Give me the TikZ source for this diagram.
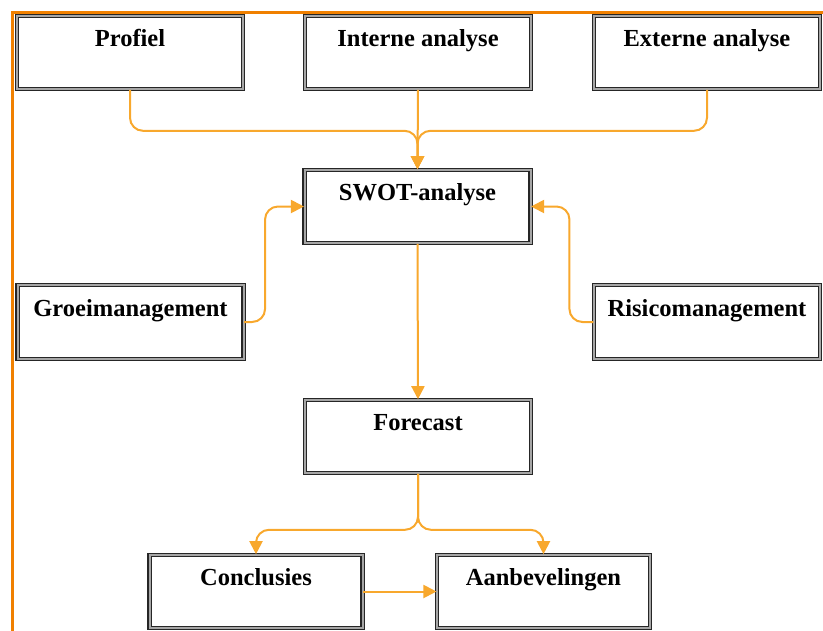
\documentclass[tikz,border=0pt]{standalone}
\usepackage{fontspec}
\setmainfont{Liberation Serif}
\usetikzlibrary{arrows.meta}
\definecolor{framecol}{RGB}{240,128,0}
\definecolor{linecol}{RGB}{248,168,45}
\begin{document}
\begin{tikzpicture}[x=1pt,y=1pt,
box/.style={draw=black!85, line width=1.1pt, double=gray!70, double distance=2pt, fill=white, minimum width=226pt, inner ysep=4pt, text height=27pt, text depth=38.5pt, font=\bfseries\fontsize{24.5}{28}\selectfont},
smallbox/.style={box, minimum width=213pt},
conn/.style={draw=linecol, line width=2pt, rounded corners=13pt, -{Triangle[length=13pt,width=13pt]}},
frame/.style={draw=framecol, line width=3pt}]
\useasboundingbox (0,0) rectangle (823,-630);
\draw[frame] (12,-640) -- (12,-12) -- (830,-12);
\node[box] (prof) at (130,-52.5) {Profiel};
\node[box] (int) at (418,-52.5) {Interne analyse};
\node[box] (ext) at (707,-52.5) {Externe analyse};
\node[box] (swot) at (417.5,-206.5) {SWOT-analyse};
\node[box] (groei) at (130.5,-322) {Groeimanagement};
\node[box] (risk) at (707,-322) {Risicomanagement};
\node[box] (fc) at (418,-436.5) {Forecast};
\node[smallbox] (concl) at (256,-591.5) {Conclusies};
\node[smallbox] (aanb) at (543.5,-591.5) {Aanbevelingen};
\draw[conn] (prof.south) -- ++(0,-41) -| (swot.north);
\draw[conn] (ext.south) -- ++(0,-41) -| (swot.north);
\draw[conn] (int.south) -- (swot.north);
\draw[conn] (groei.east) -- ++(21,0) |- (swot.west);
\draw[conn] (risk.west) -- ++(-24,0) |- (swot.east);
\draw[conn] (swot.south) -- (fc.north);
\draw[conn] (fc.south) -- ++(0,-56) -| (concl.north);
\draw[conn] (fc.south) -- ++(0,-56) -| (aanb.north);
\draw[conn] (concl.east) -- (aanb.west);
\end{tikzpicture}
\end{document}
